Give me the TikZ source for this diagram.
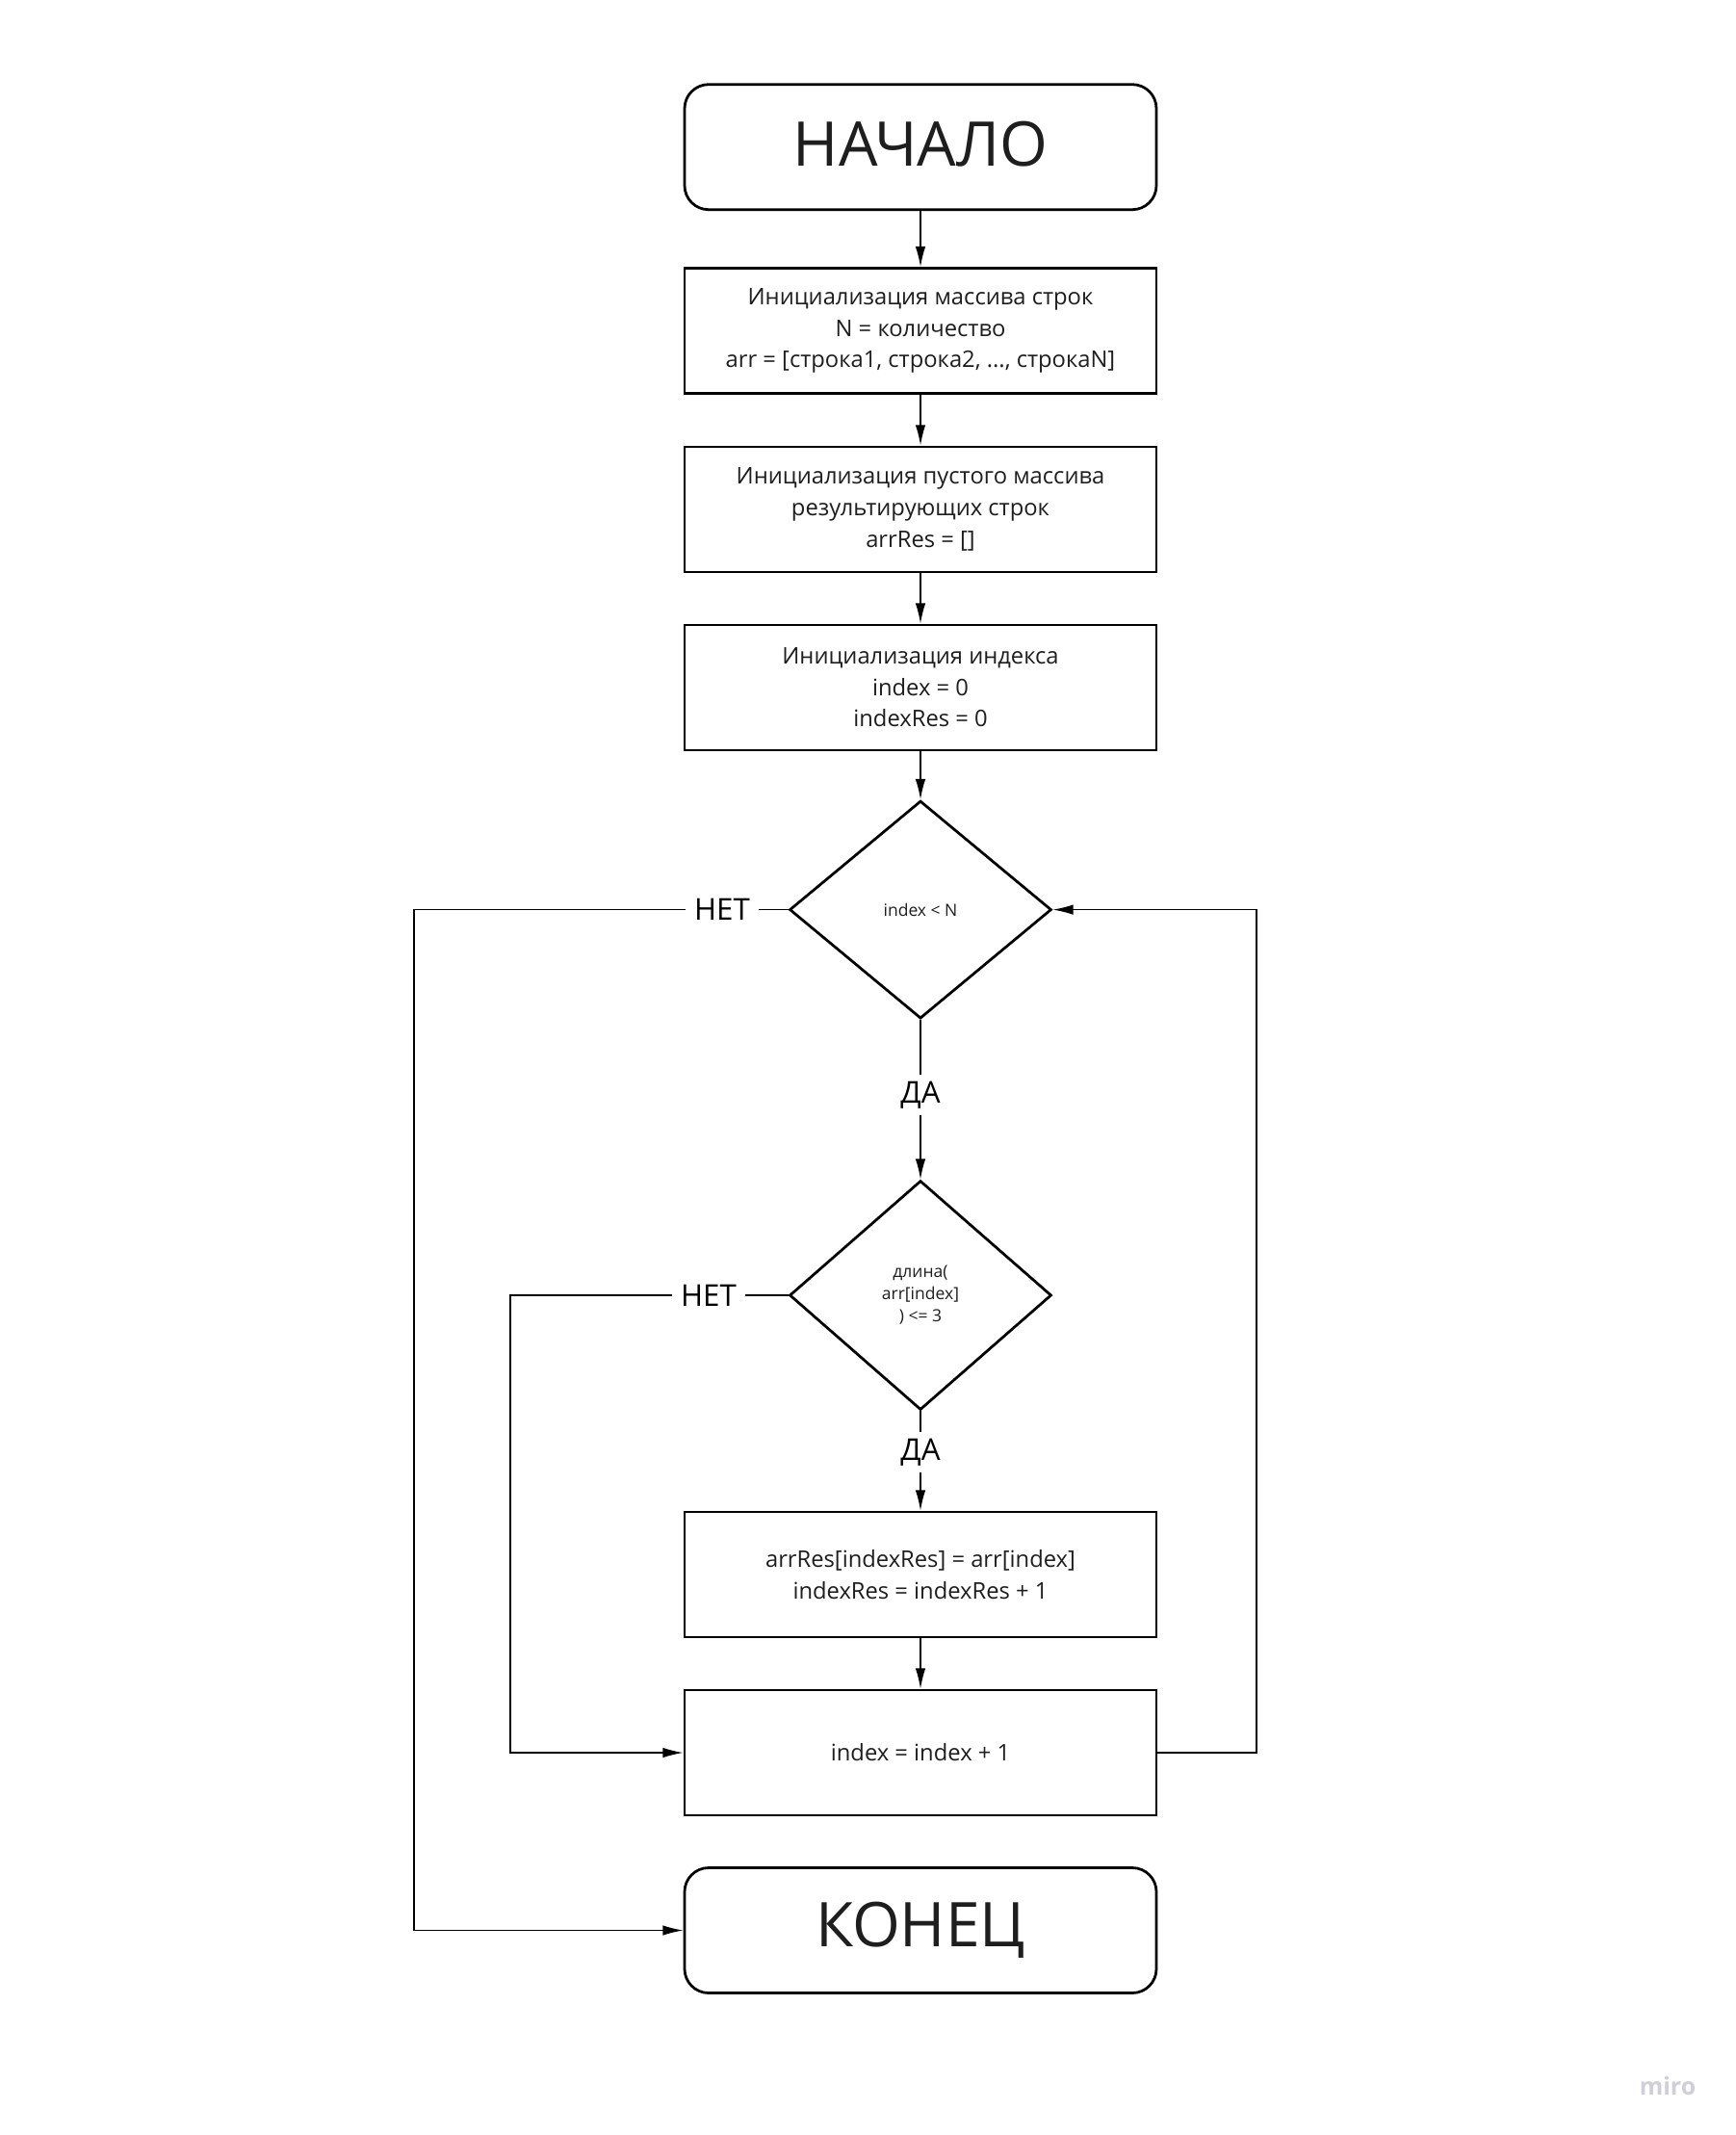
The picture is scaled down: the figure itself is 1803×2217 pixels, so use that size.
\documentclass[tikz,border=0pt]{standalone}
\usepackage{fontspec}
\setmainfont{Open Sans}
\usetikzlibrary{shapes.geometric,arrows.meta}
\definecolor{txt}{HTML}{1E1E1E}
\definecolor{wmark}{HTML}{CFCFDB}
\begin{document}
\begin{tikzpicture}[x=0.4pt,y=-0.4pt,
  box/.style={draw=black, line width=1.1pt, minimum width=196pt, minimum height=52pt,
    align=center, inner sep=0pt, text=txt, font=\fontsize{9.5}{13}\selectfont},
  term/.style={box, rounded corners=10pt, font=\fontsize{25.6}{30}\selectfont},
  dec/.style={diamond, draw=black, line width=1.1pt, minimum width=108.8pt,
    align=center, inner sep=0pt, text=txt, font=\fontsize{7}{9.2}\selectfont},
  lbl/.style={fill=white, inner xsep=3.4pt, inner ysep=2.4pt, text=black,
    font=\fontsize{12.5}{15}\selectfont},
  line/.style={draw=black, line width=0.6pt},
  conn/.style={line, -{Latex[length=8.5pt,width=4.2pt]}}]

\fill[white] (0,0) rectangle (1803,2217);
\path[use as bounding box] (0,0) rectangle (1803,2217);

% nodes
\node[term] (start) at (956,152.7) {\raisebox{3pt}{НАЧАЛО}};
\node[box] (b1) at (956,343.6) {Инициализация массива строк\\N = количество\\arr = [строка1, строка2, ..., строкаN]};
\node[box] (b2) at (956,528.9) {Инициализация пустого массива\\результирующих строк\\arrRes = []};
\node[box] (b3) at (956,714) {Инициализация индекса\\index = 0\\indexRes = 0};
\node[dec, minimum height=90.4pt] (d1) at (956,944.6) {index < N};
\node[dec, minimum height=95.2pt] (d2) at (956,1345) {длина(\\arr[index]\\) <= 3};
\node[box] (b4) at (956,1635) {arrRes[indexRes] = arr[index]\\indexRes = indexRes + 1};
\node[box] (b5) at (956,1820) {index = index + 1};
\node[term] (end) at (956,2004.5) {\raisebox{1pt}{КОНЕЦ}};

% labels
\node[lbl] (yes1) at (956,1137) {ДА};
\node[lbl] (yes2) at (956,1508) {ДА};
\node[lbl] (no1) at (750,944.6) {НЕТ};
\node[lbl] (no2) at (736,1345) {НЕТ};

% corners
\coordinate (lno1) at (430,944.6);
\coordinate (lno2) at (530,1345);
\coordinate (rloop) at (1305,1820);

% connectors
\draw[conn] (start.south) -- (b1.north);
\draw[conn] (b1.south) -- (b2.north);
\draw[conn] (b2.south) -- (b3.north);
\draw[conn] (b3.south) -- (d1.north);
\draw[line] (d1.south) -- (yes1.north);
\draw[conn] (yes1.south) -- (d2.north);
\draw[line] (d2.south) -- (yes2.north);
\draw[conn] (yes2.south) -- (b4.north);
\draw[conn] (b4.south) -- (b5.north);
\draw[line] (d1.west) -- (no1.east);
\draw[conn] (no1.west) -- (lno1) |- (end.west);
\draw[line] (d2.west) -- (no2.east);
\draw[conn] (no2.west) -- (lno2) |- (b5.west);
\draw[conn] (b5.east) -- (rloop) |- (d1.east);

% watermark
\node[text=wmark, font=\fontsize{10}{12}\selectfont\bfseries] (wm) at (1732,2166) {miro};
\end{tikzpicture}
\end{document}
